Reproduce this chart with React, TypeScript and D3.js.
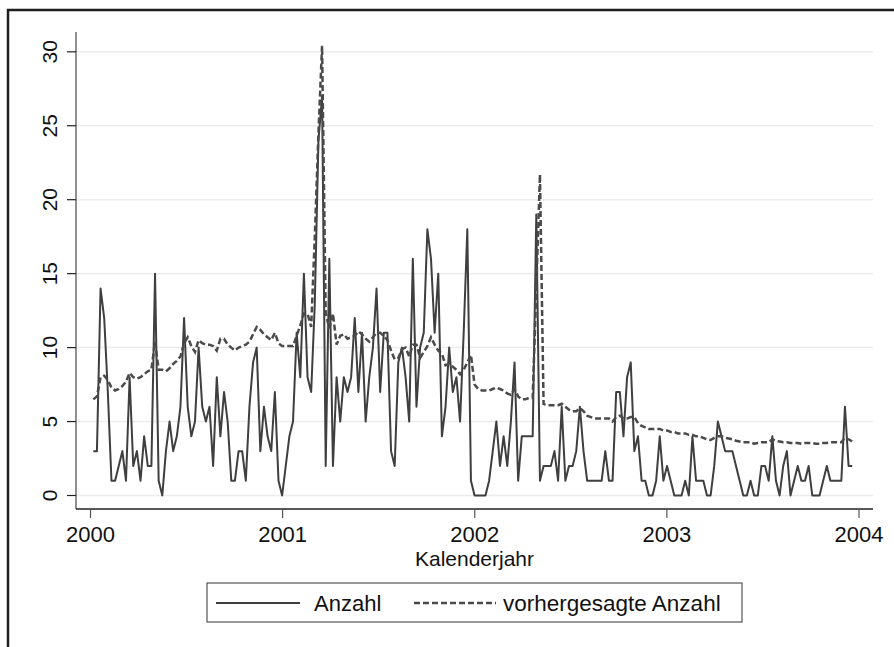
import React from "react"
import * as d3 from "d3"

// weekly observations, first week of 2000 to end of 2003
const anzahl = [
  3, 3, 14, 12, 7, 1, 1, 2, 3, 1,
  8, 2, 3, 1, 4, 2, 2, 15, 1, 0,
  3, 5, 3, 4, 6, 12, 6, 4, 5, 10,
  6, 5, 6, 2, 8, 4, 7, 5, 1, 1,
  3, 3, 1, 6, 9, 10, 3, 6, 4, 3,
  7, 1, 0, 2, 4, 5, 11, 8, 15, 8,
  7, 13, 24, 27, 2, 16, 2, 8, 5, 8,
  7, 8, 12, 7, 11, 5, 8, 10, 14, 7,
  11, 11, 3, 2, 9, 10, 8, 5, 16, 6,
  10, 11, 18, 16, 11, 15, 4, 6, 10, 7,
  8, 5, 11, 18, 1, 0, 0, 0, 0, 1,
  3, 5, 2, 4, 2, 5, 9, 1, 4, 4,
  4, 4, 19, 1, 2, 2, 2, 3, 1, 6,
  1, 2, 2, 3, 6, 3, 1, 1, 1, 1,
  1, 3, 1, 1, 7, 7, 4, 8, 9, 3,
  4, 1, 1, 0, 0, 1, 4, 1, 2, 1,
  0, 0, 0, 1, 0, 4, 1, 1, 1, 0,
  0, 2, 5, 4, 3, 3, 3, 2, 1, 0,
  0, 1, 0, 0, 2, 2, 1, 4, 1, 0,
  2, 3, 0, 1, 2, 1, 1, 2, 0, 0,
  0, 1, 2, 1, 1, 1, 1, 6, 2, 2,
]

const vorhergesagt = [
  6.5, 6.7, 8.0, 8.1, 7.8, 7.3, 7.1, 7.2, 7.4, 7.7,
  8.3, 8.0, 7.9, 8.0, 8.2, 8.4, 8.5, 10.4, 8.5, 8.5,
  8.4, 8.6, 8.9, 9.1, 9.4, 10.3, 10.7, 10.1, 9.7, 10.5,
  10.3, 10.2, 10.2, 10.1, 9.8, 10.6, 10.6, 10.2, 10.0, 9.8,
  10.0, 10.1, 10.2, 10.4, 10.9, 11.4, 11.2, 10.9, 10.7, 10.5,
  11.0, 10.3, 10.1, 10.1, 10.1, 10.1, 10.8, 11.5, 12.3, 12.3,
  11.4, 17.5, 24.5, 30.4, 12.3, 11.3, 12.3, 10.2, 10.8, 10.9,
  10.6, 10.7, 10.8, 11.1, 10.9, 10.6, 10.4, 10.7, 11.0, 11.0,
  10.8, 10.5, 9.8, 9.2, 9.3, 9.9, 10.0, 9.4, 10.2, 10.2,
  9.3, 9.7, 10.1, 10.7, 10.2, 9.8, 9.6, 8.8, 8.9, 8.7,
  8.5, 8.2, 8.5, 9.0, 9.5, 7.5, 7.2, 7.1, 7.1, 7.1,
  7.2, 7.3, 7.2, 7.1, 6.9, 6.8, 7.2, 6.7, 6.5, 6.5,
  6.6, 6.6, 14, 21.7, 6.2, 6.1, 6.1, 6.1, 6.1, 6.2,
  6.0, 5.8, 5.7, 5.7, 5.9, 5.7, 5.4, 5.3, 5.2, 5.2,
  5.2, 5.2, 5.2, 5.0, 5.3, 5.4, 5.2, 5.2, 5.3, 5.3,
  4.9, 4.7, 4.6, 4.5, 4.5, 4.5, 4.5, 4.4, 4.4, 4.3,
  4.3, 4.2, 4.2, 4.2, 4.1, 4.1, 4.0, 4.0, 3.9, 3.8,
  3.75, 3.9, 4.0, 4.0, 3.9, 3.85, 3.8, 3.7, 3.65, 3.6,
  3.6, 3.6, 3.5, 3.55, 3.6, 3.6, 3.6, 3.8, 3.7, 3.65,
  3.6, 3.6, 3.55, 3.55, 3.55, 3.5, 3.55, 3.55, 3.55, 3.5,
  3.5, 3.55, 3.55, 3.6, 3.6, 3.6, 3.6, 3.9, 3.8, 3.65,
]

const yearTicks = [2000, 2001, 2002, 2003, 2004]
const yTicks = [0, 5, 10, 15, 20, 25, 30]

// Kalenderjahr of each weekly observation
const firstWeek = 2000.0146
const weekStep = 0.0189

const font = "'Liberation Sans', Arial, sans-serif"
const lineColor = "#3f3f3f"
const dashColor = "#4a4a4a"

export default function App() {
  const width = 894
  const height = 647

  const x = d3.scaleLinear().domain([2000, 2004]).range([90.5, 859])
  const y = d3.scaleLinear().domain([0, 30]).range([495.5, 51.8])

  const line = d3
    .line<number>()
    .x((_, i) => x(firstWeek + i * weekStep))
    .y((d) => y(d))

  const plotLeft = 76
  const plotRight = 873
  const axisY = 509

  return (
    <svg
      width={width}
      height={height}
      style={{ position: "absolute", left: 0, top: 0, background: "#fff" }}
      fontFamily={font}
    >
      {/* outer frame, cut off at right and bottom */}
      <path d={`M8,${height} L8,10 L${width},10`} fill="none" stroke="#1e1e1e" strokeWidth={2.5} />

      {/* grid */}
      {yTicks.map((t) => (
        <line key={"g" + t} x1={plotLeft} x2={plotRight} y1={y(t)} y2={y(t)} stroke="#ececec" strokeWidth={1.5} />
      ))}

      {/* y axis */}
      <line x1={plotLeft} x2={plotLeft} y1={32} y2={axisY} stroke="#555" strokeWidth={1.3} />
      {yTicks.map((t) => (
        <g key={"y" + t}>
          <line x1={67} x2={plotLeft} y1={y(t)} y2={y(t)} stroke="#222" strokeWidth={1.2} />
          <text
            transform={`translate(56.5,${y(t)}) rotate(-90)`}
            textAnchor="middle"
            fontSize={21}
            fill="#111"
          >
            {t}
          </text>
        </g>
      ))}

      {/* x axis */}
      <line x1={plotLeft} x2={plotRight} y1={axisY} y2={axisY} stroke="#222" strokeWidth={1.3} />
      {yearTicks.map((t) => (
        <g key={"x" + t}>
          <line x1={x(t)} x2={x(t)} y1={axisY} y2={518} stroke="#555" strokeWidth={1.2} />
          <text x={x(t)} y={542} textAnchor="middle" fontSize={22} fill="#111">
            {t}
          </text>
        </g>
      ))}
      <text x={(plotLeft + plotRight) / 2} y={566} textAnchor="middle" fontSize={21} fill="#111">
        Kalenderjahr
      </text>

      {/* series */}
      <path d={line(anzahl) ?? ""} fill="none" stroke={lineColor} strokeWidth={2} strokeLinejoin="round" />
      <path d={line(vorhergesagt) ?? ""} fill="none" stroke={dashColor} strokeWidth={2.5} strokeDasharray="6,3" />

      {/* legend */}
      <rect x={207} y={583} width={535} height={39} fill="#fff" stroke="#333" strokeWidth={1} />
      <line x1={216} x2={300} y1={603} y2={603} stroke={lineColor} strokeWidth={2} />
      <text x={314} y={611} fontSize={22} fill="#111">
        Anzahl
      </text>
      <line x1={414} x2={496} y1={603} y2={603} stroke={dashColor} strokeWidth={2.5} strokeDasharray="6,3" />
      <text x={503} y={611} fontSize={22.5} fill="#111">
        vorhergesagte Anzahl
      </text>
    </svg>
  )
}
